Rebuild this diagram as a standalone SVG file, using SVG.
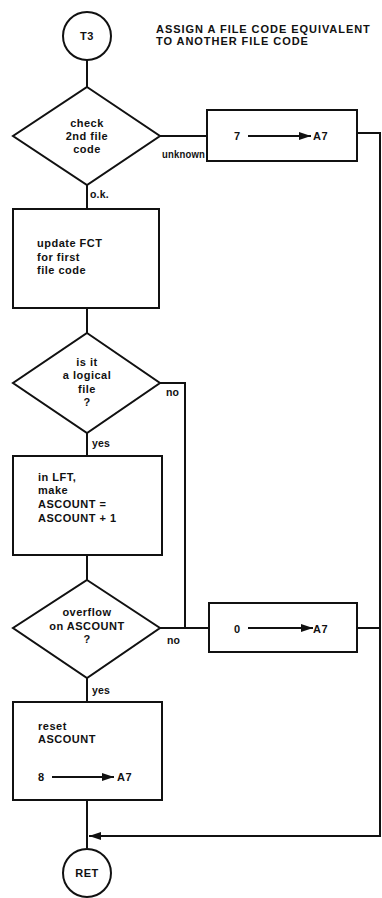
<svg xmlns="http://www.w3.org/2000/svg" width="382" height="898" viewBox="0 0 382 898">
<style>
.s{fill:none;stroke:#111;stroke-width:2}
.n{fill:#fff;stroke:#111;stroke-width:2}
text{font-family:"Liberation Sans",Arial,sans-serif;font-weight:bold;fill:#111;font-size:11px;letter-spacing:0.5px}
.c{text-anchor:middle}
.t{font-size:11px;letter-spacing:0.95px}
.l{font-size:10.5px;letter-spacing:0.2px}
</style>
<defs>
<marker id="ah" markerWidth="12" markerHeight="8" refX="12" refY="4" orient="auto" markerUnits="userSpaceOnUse">
<path d="M0,0 L12,4 L0,8 Z" fill="#111"/>
</marker>
</defs>
<rect width="382" height="898" fill="#fff"/>
<g id="title">
<text class="t" x="156" y="33">ASSIGN A FILE CODE EQUIVALENT</text>
<text class="t" x="156" y="45">TO ANOTHER FILE CODE</text>
</g>
<g id="connectors">
<path class="s" d="M87,60 V87"/>
<path class="s" d="M160,136 H207"/>
<path class="s" d="M357,133 H380 V836 H89" marker-end="url(#ah)"/>
<path class="s" d="M87,185 V209"/>
<path class="s" d="M87,308 V333"/>
<path class="s" d="M160,383 H185 V628"/>
<path class="s" d="M87,433 V456"/>
<path class="s" d="M87,555 V580"/>
<path class="s" d="M160,628 H209"/>
<path class="s" d="M357,628 H380"/>
<path class="s" d="M87,678 V702"/>
<path class="s" d="M87,800 V848"/>
</g>
<g id="T3">
<circle class="n" cx="87" cy="36" r="24"/>
<text class="c" x="87" y="40">T3</text>
</g>
<g id="check">
<path class="n" d="M87,87 L160,136 L87,185 L13,136 Z"/>
<text class="c" x="87" y="127">check</text>
<text class="c" x="87" y="140">2nd file</text>
<text class="c" x="87" y="153">code</text>
</g>
<g id="set7">
<rect class="n" x="207" y="110" width="150" height="51"/>
<text x="234" y="140">7</text>
<path class="s" d="M248,136 H311" marker-end="url(#ah)"/>
<text x="313" y="140">A7</text>
</g>
<g id="update">
<rect class="n" x="13" y="209" width="146" height="99"/>
<text x="37" y="247">update FCT</text>
<text x="37" y="261">for first</text>
<text x="37" y="274">file code</text>
</g>
<g id="logical">
<path class="n" d="M87,333 L160,383 L87,433 L13,383 Z"/>
<text class="c" x="87" y="366">is it</text>
<text class="c" x="87" y="379">a logical</text>
<text class="c" x="87" y="393">file</text>
<text class="c" x="87" y="406">?</text>
</g>
<g id="incr">
<rect class="n" x="13" y="456" width="149" height="99"/>
<text x="38" y="481">in LFT,</text>
<text x="38" y="494">make</text>
<text x="38" y="508">ASCOUNT =</text>
<text x="38" y="522">ASCOUNT + 1</text>
</g>
<g id="overflow">
<path class="n" d="M87,580 L160,628 L87,678 L13,628 Z"/>
<text class="c" x="87" y="616">overflow</text>
<text class="c" x="87" y="630">on ASCOUNT</text>
<text class="c" x="87" y="643">?</text>
</g>
<g id="set0">
<rect class="n" x="209" y="603" width="148" height="49"/>
<text x="234" y="633">0</text>
<path class="s" d="M248,628 H313" marker-end="url(#ah)"/>
<text x="313" y="633">A7</text>
</g>
<g id="reset">
<rect class="n" x="13" y="702" width="149" height="98"/>
<text x="38" y="730">reset</text>
<text x="38" y="743">ASCOUNT</text>
<text x="38" y="781">8</text>
<path class="s" d="M52,777 H114" marker-end="url(#ah)"/>
<text x="117" y="781">A7</text>
</g>
<g id="RET">
<circle class="n" cx="87" cy="873" r="24"/>
<text class="c" x="87" y="877">RET</text>
</g>
<g id="labels">
<text class="l" x="162" y="158" textLength="43" lengthAdjust="spacingAndGlyphs">unknown</text>
<text class="l" x="90" y="198">o.k.</text>
<text class="l" x="166" y="396">no</text>
<text class="l" x="92" y="447">yes</text>
<text class="l" x="167" y="644">no</text>
<text class="l" x="92" y="694">yes</text>
</g>
</svg>
